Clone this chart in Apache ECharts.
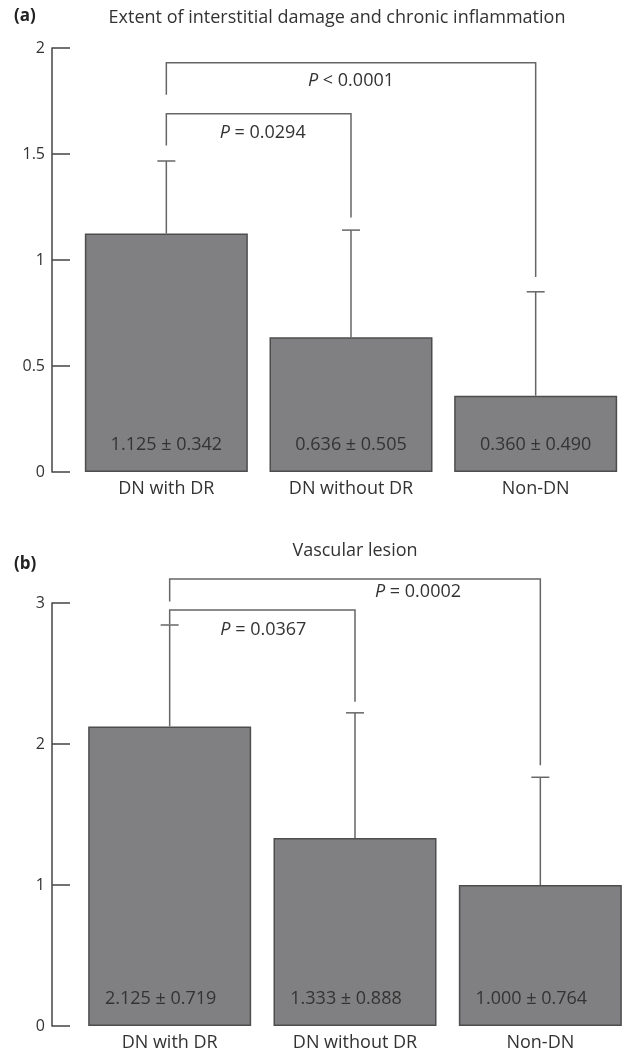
<!DOCTYPE html>
<html>
<head>
<meta charset="utf-8">
<script src="https://cdn.jsdelivr.net/npm/echarts@6/dist/echarts.min.js"></script>
<style>
  html, body { margin: 0; padding: 0; background: #fff; overflow: hidden; }
  #chart { width: 650px; height: 1056px; }
</style>
</head>
<body>
<div id="chart"></div>
<script>
// groups
var categories = ['DN with DR', 'DN without DR', 'Non-DN'];

// (a) interstitial damage / chronic inflammation
var meanA = [1.125, 0.636, 0.360];
var sdA = [0.342, 0.505, 0.490];
var ticksA = [0, 0.5, 1, 1.5, 2];
// brackets: [from, to, top, leftEnd, rightEnd]
var bracketsA = [[0, 1, 1.69, 1.54, 1.20], [0, 2, 1.93, 1.78, 0.92]];
var pLabelsA = ['= 0.0294', '< 0.0001'];

// (b) vascular lesion
var meanB = [2.125, 1.333, 1.000];
var sdB = [0.719, 0.888, 0.764];
var ticksB = [0, 1, 2, 3];
var bracketsB = [[0, 1, 2.95, 2.85, 2.30], [0, 2, 3.17, 3.01, 1.85]];
var pLabelsB = ['= 0.0367', '= 0.0002'];

var FONT = 'Open Sans';
var TXT = '#333';
var LINE = '#666';

// chart is a bit wider than the window so the last bar can run to the edge
var chart = echarts.init(document.getElementById('chart'));

function valueLabels(mean, sd) {
  return mean.map(function (m, i) { return m.toFixed(3) + ' \u00b1 ' + sd[i].toFixed(3); });
}

function errData(mean, sd) {
  return mean.map(function (m, i) { return [i, m, sd[i]]; });
}

function renderErr(params, api) {
  var x = api.value(0), m = api.value(1), s = api.value(2);
  var a = api.coord([x, m]);
  var b = api.coord([x, m + s]);
  var st = { stroke: LINE, lineWidth: 1.5 };
  return {
    type: 'group',
    children: [
      { type: 'line', shape: { x1: a[0], y1: a[1], x2: b[0], y2: b[1] }, style: st },
      { type: 'line', shape: { x1: b[0] - 9, y1: b[1], x2: b[0] + 9, y2: b[1] }, style: st }
    ]
  };
}

function makeBracketRender(labels, dx, dy) {
  return function (params, api) {
    var from = api.value(0), to = api.value(1), top = api.value(2);
    var p1 = api.coord([from, api.value(3)]);
    var p2 = api.coord([from, top]);
    var p3 = api.coord([to, top]);
    var p4 = api.coord([to, api.value(4)]);
    var i = params.dataIndex;
    return {
      type: 'group',
      children: [
        { type: 'polyline', shape: { points: [p1, p2, p3, p4] },
          style: { stroke: LINE, lineWidth: 1.5, fill: null } },
        { type: 'text', x: (p2[0] + p3[0]) / 2 + dx[i], y: p2[1] + dy[i],
          style: {
            text: '{i|P} ' + labels[i],
            rich: { i: { fontStyle: 'italic', fontSize: 18, fontFamily: FONT, fill: TXT } },
            fontSize: 18, fontFamily: FONT, fill: TXT,
            align: 'center', verticalAlign: 'middle'
          } }
      ]
    };
  };
}

function yAxisOf(gridIndex, ticks, offset) {
  return {
    type: 'value', gridIndex: gridIndex, min: ticks[0], max: ticks[ticks.length - 1],
    interval: ticks[1] - ticks[0],
    offset: offset,
    axisLine: { show: true, lineStyle: { color: '#444', width: 1.5 } },
    axisTick: { show: true, inside: true, length: 18, lineStyle: { color: '#444', width: 1.5 } },
    axisLabel: { color: TXT, fontSize: 16, fontFamily: FONT, margin: 7 },
    splitLine: { show: false }
  };
}

function xAxisOf(gridIndex) {
  return {
    type: 'category', gridIndex: gridIndex, data: categories,
    axisLine: { show: false }, axisTick: { show: false },
    axisLabel: { color: TXT, fontSize: 18, fontFamily: FONT, margin: 8 }
  };
}

function barSeries(idx, mean, sd, labelOffset) {
  var labels = valueLabels(mean, sd);
  return {
    type: 'bar', xAxisIndex: idx, yAxisIndex: idx, data: mean, barWidth: 163,
    itemStyle: { color: '#808082', borderColor: '#4d4d4d', borderWidth: 1.5 },
    label: {
      show: true, position: 'insideBottom', distance: 18, offset: [labelOffset, 0],
      color: TXT, fontSize: 18, fontFamily: FONT,
      formatter: function (p) { return labels[p.dataIndex]; }
    },
    silent: true
  };
}

var option = {
  backgroundColor: '#fff',
  animation: false,
  grid: [
    { left: 74, right: 22, top: 48, bottom: 584 },
    { left: 77, right: 17, top: 603, bottom: 30 }
  ],
  xAxis: [xAxisOf(0), xAxisOf(1)],
  yAxis: [yAxisOf(0, ticksA, 22), yAxisOf(1, ticksB, 25)],
  series: [
    barSeries(0, meanA, sdA, 0),
    barSeries(1, meanB, sdB, -9),
    { type: 'custom', xAxisIndex: 0, yAxisIndex: 0, data: errData(meanA, sdA),
      renderItem: renderErr, encode: { x: 0, y: 1 }, z: 5, silent: true },
    { type: 'custom', xAxisIndex: 1, yAxisIndex: 1, data: errData(meanB, sdB),
      renderItem: renderErr, encode: { x: 0, y: 1 }, z: 5, silent: true },
    { type: 'custom', xAxisIndex: 0, yAxisIndex: 0, data: bracketsA,
      renderItem: makeBracketRender(pLabelsA, [4, 0], [19, 18]),
      encode: { x: 0, y: 2 }, z: 5, silent: true, clip: false },
    { type: 'custom', xAxisIndex: 1, yAxisIndex: 1, data: bracketsB,
      renderItem: makeBracketRender(pLabelsB, [1, 63], [20, 13]),
      encode: { x: 0, y: 2 }, z: 5, silent: true, clip: false }
  ],
  graphic: [
    { type: 'text', left: 14, top: 8,
      style: { text: '(a)', fontSize: 17, fontWeight: 'bold', fontFamily: FONT, fill: '#222' } },
    { type: 'text', x: 337, y: 18,
      style: { text: 'Extent of interstitial damage and chronic inflammation', fontSize: 18,
        fontFamily: FONT, fill: TXT, align: 'center', verticalAlign: 'middle' } },
    { type: 'text', left: 14, top: 556,
      style: { text: '(b)', fontSize: 17, fontWeight: 'bold', fontFamily: FONT, fill: '#222' } },
    { type: 'text', x: 355, y: 551,
      style: { text: 'Vascular lesion', fontSize: 18,
        fontFamily: FONT, fill: TXT, align: 'center', verticalAlign: 'middle' } }
  ]
};

chart.setOption(option);
</script>
</body>
</html>
